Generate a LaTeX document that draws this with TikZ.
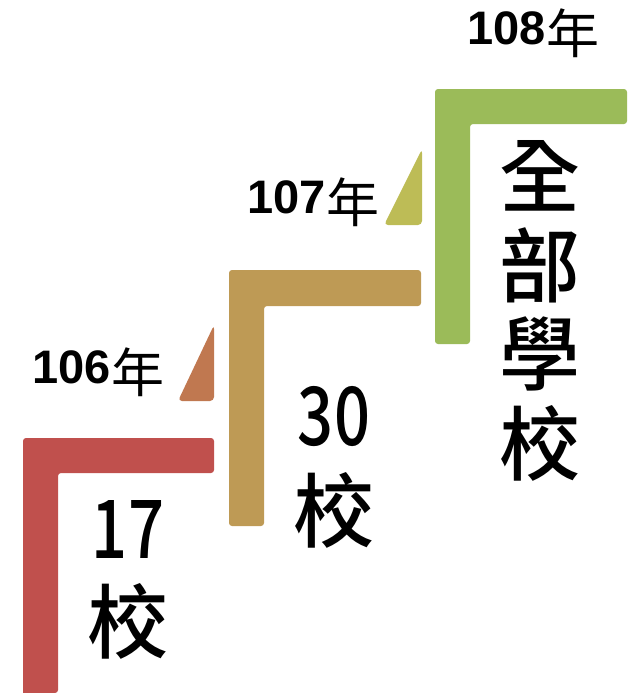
\documentclass[tikz,border=0pt]{standalone}
\usepackage{fontspec}
\setmainfont{Liberation Sans}
\newfontfamily\cjk{Noto Sans CJK TC}
\newfontfamily\cjkm{Noto Sans CJK TC Medium}
\definecolor{cred}{HTML}{C0504D}
\definecolor{ctan}{HTML}{BE9A55}
\definecolor{cgreen}{HTML}{9BBB59}
\definecolor{corange}{HTML}{C07850}
\definecolor{cyg}{HTML}{BDBC56}
\begin{document}
\begin{tikzpicture}[x=1pt,y=-1pt,
  lbar/.style={rounded corners=3pt},
  tri/.style={rounded corners=4pt},
  yearnum/.style={inner sep=0pt,anchor=base east,font=\fontsize{47}{47}\selectfont\bfseries},
  yearchar/.style={inner sep=0pt,anchor=base west,yshift=-9pt,font=\fontsize{53}{53}\selectfont\cjk},
  bigtxt/.style={inner sep=0pt,anchor=base,font=\fontsize{81}{81}\selectfont\cjkm}]
\useasboundingbox (0,0) rectangle (641,693);
% L shapes
\fill[cred,lbar] (23,693) -- (23,438) -- (214,438) -- (214,473) -- (58,473) -- (58,693) [sharp corners] -- cycle;
\fill[ctan,lbar] (229,526) -- (229,270) -- (421,270) -- (421,306) -- (264,306) -- (264,526) -- cycle;
\fill[cgreen,lbar] (435,344) -- (435,89) -- (627,89) -- (627,124) -- (470,124) -- (470,344) -- cycle;
% triangles
\fill[corange,tri] (178,401) -- (214,325) -- (214,401) -- cycle;
\fill[cyg,tri] (384,225) -- (422,149) -- (422,225) -- cycle;
% year labels
\node[yearnum] (y106) at (111,383) {106};
\node[yearchar] (n106) at (y106.base east) {年};
\node[yearnum] (y107) at (326,213) {107};
\node[yearchar] (n107) at (y107.base east) {年};
\node[yearnum] (y108) at (546,45) {108};
\node[yearchar] (n108) at (y108.base east) {年};
% big texts
\node[bigtxt] (c17) at (128,558) {\scalebox{0.78}[1]{17}};
\node[bigtxt] (x17) at (128,652) {校};
\node[bigtxt] (c30) at (334,445) {\scalebox{0.78}[1]{30}};
\node[bigtxt] (x30) at (334,541) {校};
\node[bigtxt] (q1) at (540,206) {全};
\node[bigtxt] (q2) at (540,296) {部};
\node[bigtxt] (q3) at (540,384) {學};
\node[bigtxt] (q4) at (540,474) {校};
\end{tikzpicture}
\end{document}
